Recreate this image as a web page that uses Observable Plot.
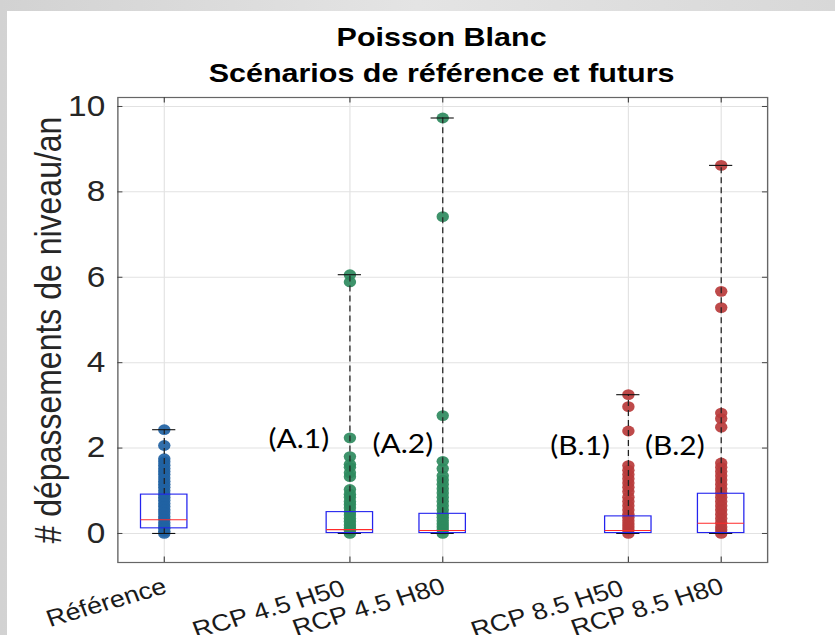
<!DOCTYPE html>
<html><head><meta charset="utf-8">
<script src="https://cdn.jsdelivr.net/npm/d3@7"></script>
<script src="https://cdn.jsdelivr.net/npm/@observablehq/plot@0.6"></script>
<style>
html,body{margin:0;padding:0;}
body{width:835px;height:635px;overflow:hidden;position:relative;
  background:linear-gradient(90deg,#d2d2d2 0%,#e4e4e4 50%,#d8d8d8 100%);}
#panel{position:absolute;left:7px;top:11px;width:828px;height:624px;background:#fff;}
#wrap{position:absolute;left:0;top:0;width:726px;height:635px;transform:scaleX(1.15);transform-origin:0 0;}
#title{position:absolute;left:84px;top:19px;width:600px;text-align:center;
  font-family:"Liberation Sans",Arial,sans-serif;font-weight:bold;font-size:26.5px;line-height:36px;color:#000;}
#chart{position:absolute;left:0;top:0;}
</style></head>
<body>
<div id="panel"></div>
<div id="wrap">
  <div id="chart"></div>
  <div id="title">Poisson Blanc<br>Scénarios de référence et futurs</div>
</div>
<script>
// ---- data ----
const categories = ["Référence", "RCP 4.5 H50\u00a0", "RCP 4.5 H80", "RCP 8.5 H50\u00a0", "RCP 8.5 H80"];
const positions = [1, 3, 4, 6, 7];
const groupColors = ["#2162a3", "#2e8a5e", "#b83b3b"];
const colorIndex = [0, 1, 1, 2, 2];

const reference = [2.43, 2.06, 1.75, 1.68, 1.6, 1.52, 1.45, 1.38, 1.3, 1.22, 1.15, 1.08, 1.0, 0.92, 0.85, 0.78, 0.7, 0.63, 0.55, 0.48, 0.4, 0.33, 0.25, 0.18, 0.12, 0.05, 0];
const rcp45h50 = [6.06, 5.89, 2.24, 1.80, 1.62, 1.55, 1.42, 1.33, 1.03, 0.92, 0.85, 0.75, 0.68, 0.6, 0.5, 0.43, 0.35, 0.28, 0.2, 0.13, 0.07, 0];
const rcp45h80 = [9.73, 7.42, 2.76, 1.69, 1.52, 1.35, 1.25, 1.15, 1.05, 0.95, 0.85, 0.75, 0.65, 0.55, 0.45, 0.38, 0.3, 0.22, 0.15, 0.08, 0];
const rcp85h50 = [3.25, 2.97, 2.40, 1.59, 1.48, 1.38, 1.28, 1.18, 1.08, 0.98, 0.85, 0.75, 0.65, 0.55, 0.45, 0.38, 0.3, 0.22, 0.15, 0.08, 0];
const rcp85h80 = [8.62, 5.67, 5.29, 2.82, 2.69, 2.49, 1.65, 1.55, 1.45, 1.35, 1.25, 1.15, 1.05, 0.95, 0.85, 0.75, 0.65, 0.55, 0.45, 0.35, 0.25, 0.15, 0.08, 0];
const series = [reference, rcp45h50, rcp45h80, rcp85h50, rcp85h80];

const boxQ1 = [0.12, 0.01, 0.01, 0.01, 0.01];
const boxMedian = [0.32, 0.09, 0.07, 0.07, 0.24];
const boxQ3 = [0.91, 0.50, 0.46, 0.40, 0.93];
const whiskerLow = [0, 0, 0, 0, 0];
const whiskerHigh = [2.43, 6.06, 9.73, 3.25, 8.62];

const yTicks = [0, 2, 4, 6, 8, 10];
const yLabel = "# dépassements de niveau/an";
const annotations = [
  {label: "(A.1)", x: 2.45, y: 2.2},
  {label: "(A.2)", x: 3.57, y: 2.07},
  {label: "(B.1)", x: 5.48, y: 2.04},
  {label: "(B.2)", x: 6.50, y: 2.04}
];

// ---- derived tables ----
const points = series.flatMap((vals, i) => vals.map(v => ({pos: positions[i], v, c: groupColors[colorIndex[i]]})));
const stats = positions.map((p, i) => ({pos: p, q1: boxQ1[i], med: boxMedian[i], q3: boxQ3[i], lo: whiskerLow[i], hi: whiskerHigh[i]}));
const xDom = [0.5, 7.5], yDom = [-0.68, 10.21];
const tickX = 0.055, tickY = 0.13;
const font = "Liberation Sans, Arial, sans-serif";

const chart = Plot.plot({
  width: 726, height: 635,
  marginLeft: 102, marginRight: 59, marginTop: 97, marginBottom: 73,
  x: {domain: xDom, axis: null},
  y: {domain: yDom, axis: null},
  style: {background: "transparent", fontFamily: font, overflow: "visible"},
  marks: [
    Plot.ruleY(yTicks, {y: d => d, stroke: "#e2e2e2", strokeWidth: 1}),
    Plot.ruleX(positions, {x: d => d, stroke: "#e2e2e2", strokeWidth: 1}),
    Plot.dot(points, {x: "pos", y: "v", r: 5.4, fill: "c", fillOpacity: 0.92, stroke: "none"}),
    Plot.ruleX(stats, {x: "pos", y1: "q3", y2: "hi", stroke: "#222", strokeWidth: 1.1, strokeDasharray: "6,4"}),
    Plot.ruleX(stats, {x: "pos", y1: "lo", y2: "q1", stroke: "#222", strokeWidth: 1.1, strokeDasharray: "6,4"}),
    Plot.ruleY(stats, {y: "hi", x1: d => d.pos - 0.125, x2: d => d.pos + 0.125, stroke: "#111", strokeWidth: 1.1}),
    Plot.ruleY(stats, {y: "lo", x1: d => d.pos - 0.125, x2: d => d.pos + 0.125, stroke: "#111", strokeWidth: 1.1}),
    Plot.rect(stats, {x1: d => d.pos - 0.25, x2: d => d.pos + 0.25, y1: "q1", y2: "q3", fill: "none", stroke: "#2424ee", strokeWidth: 1.1}),
    Plot.ruleY(stats, {y: "med", x1: d => d.pos - 0.25, x2: d => d.pos + 0.25, stroke: "#ff2a2a", strokeWidth: 1.1}),
    Plot.frame({stroke: "#666", strokeWidth: 1.2}),
    // inward ticks
    Plot.ruleY(yTicks, {y: d => d, x1: xDom[0], x2: xDom[0] + tickX, stroke: "#444"}),
    Plot.ruleY(yTicks, {y: d => d, x1: xDom[1] - tickX, x2: xDom[1], stroke: "#444"}),
    Plot.ruleX(positions, {x: d => d, y1: yDom[0], y2: yDom[0] + tickY, stroke: "#444"}),
    Plot.ruleX(positions, {x: d => d, y1: yDom[1] - tickY, y2: yDom[1], stroke: "#444"}),
    // y tick labels
    Plot.text(yTicks, {y: d => d, frameAnchor: "left", text: d => String(d), textAnchor: "end", dx: -11, fontSize: 29, fill: "#262626"}),
    // x tick labels
    Plot.text(categories, {x: (d, i) => positions[i], frameAnchor: "bottom", text: d => d, rotate: -18.5, textAnchor: "end", lineAnchor: "bottom", dx: 3.5, dy: 30, fontSize: 23.5, fill: "#1a1a1a"}),
    // y label
    Plot.text([yLabel], {frameAnchor: "left", text: d => d, rotate: -90, textAnchor: "middle", lineAnchor: "middle", dx: -60, fontSize: 32, fill: "#262626"}),
    // annotations
    Plot.text(annotations, {x: "x", y: "y", text: "label", fontFamily: "Lato, 'Noto Sans', sans-serif", fontSize: 26, fill: "#000"})
  ]
});
document.getElementById("chart").appendChild(chart);
</script>
</body></html>
